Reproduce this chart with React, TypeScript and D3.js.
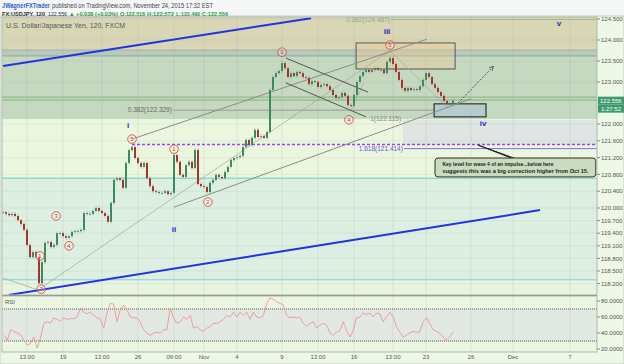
import React from 'react';
import * as d3 from 'd3';

// 2h closes, one every ~3px (Oct 15 -> Nov 24)
const closes = [
  119.90, 119.86, 119.83, 119.86, 119.81, 119.71, 119.62, 119.48, 119.12, 118.83,
  118.95, 118.83, 118.21, 118.71, 119.17, 119.19, 119.07, 119.12, 119.40, 119.40,
  119.33, 119.29, 119.33, 119.43, 119.45, 119.45, 119.48, 119.88, 119.86, 119.86,
  119.93, 120.00, 119.93, 119.88, 119.81, 119.67, 120.12, 120.67, 120.71, 120.67,
  120.48, 121.07, 121.38, 121.45, 121.19, 121.07, 120.98, 121.07, 120.71, 120.52,
  120.40, 120.38, 120.36, 120.36, 120.40, 120.33, 120.36, 121.26, 121.10, 120.79,
  120.74, 121.02, 121.10, 120.95, 121.38, 120.57, 120.52, 120.50, 120.38, 120.60,
  120.67, 120.79, 120.74, 120.71, 120.86, 120.98, 121.14, 121.19, 121.21, 121.24,
  121.45, 121.62, 121.50, 121.67, 121.86, 121.69, 121.71, 121.67, 121.81, 122.81,
  123.12, 123.21, 123.26, 123.45, 123.33, 123.12, 123.21, 123.14, 123.24, 123.21,
  123.12, 123.10, 122.95, 123.02, 123.00, 122.88, 122.93, 122.95, 122.90, 122.81,
  122.69, 122.62, 122.64, 122.74, 122.67, 122.45, 122.43, 122.69, 123.00, 123.14,
  123.24, 123.29, 123.24, 123.29, 123.33, 123.29, 123.29, 123.21, 123.48, 123.57,
  123.43, 123.24, 123.05, 122.86, 122.79, 122.86, 122.81, 122.83, 122.81, 122.90,
  123.05, 123.21, 123.12, 122.95, 122.86, 122.76, 122.67, 122.55, 122.48, 122.48,
  122.556
];

const rsiValues = [
  37, 31, 44, 42, 40, 38, 31, 25, 27, 35, 21, 34, 52, 54, 52, 59, 57, 55, 59, 57,
  58, 58, 60, 71, 66, 64, 66, 62, 59, 57, 46, 65, 77, 76, 54, 69, 75, 69, 60, 59,
  59, 54, 44, 40, 37, 40, 41, 40, 44, 44, 71, 59, 52, 54, 60, 57, 62, 46, 48, 44,
  42, 46, 48, 52, 52, 54, 57, 62, 60, 66, 60, 66, 62, 66, 57, 66, 60, 59, 62, 77,
  84, 82, 79, 77, 75, 62, 59, 60, 59, 60, 52, 48, 52, 54, 46, 50, 52, 50, 40, 37,
  41, 43, 54, 43, 35, 43, 59, 60, 65, 63, 65, 60, 65, 64, 54, 60, 66, 60, 48, 41,
  35, 37, 40, 42, 41, 41, 54, 59, 52, 44, 42, 40, 35, 31, 35, 41
];

const priceTicks = [124.5, 124, 123.5, 123, 122, 121.6, 121.2, 120.8, 120.4, 120, 119.7, 119.4, 119.1, 118.8, 118.5, 118.2];
const rsiTicks = [80, 60, 40, 20];
const timeTicks = [8, 20, 33, 45, 57, 67, 78, 93, 105, 117, 130, 141, 156, 170, 189];
const timeLabels = ['13:00', '19', '13:00', '26', '09:00', 'Nov', '4', '9', '13:00', '16', '13:00', '23', '26', 'Dec', '7'];

// header quote line
const quoteParts = ['FX:USDJPY, 120', '122.556', '▲ +0.038 (+0.03%)', 'O:122.518', 'H:122.572', 'L:122.490', 'C:122.556'];

// shaded zones (price edges, top to bottom)
const zoneEdges = [125.2, 123.76, 123.62, 122.115, 120.71, 118.29, 117.5];

// elliott labels (bar index, price)
const waveNames = ['i', 'ii', 'iii', 'iv', 'v'];
const waveIdx = [41.7, 57, 128, 160, 185.3];
const wavePrice = [121.98, 119.5, 124.21, 122.02, 124.4];

const countNames = ['1', '2', '3', '4', '5', '1', '2', '3', '4', '5'];
const countIdx = [12.3, 12.7, 17.7, 22, 43, 57, 68.3, 93, 115.3, 129];
const countPrice = [118.86, 118.07, 119.81, 119.1, 121.64, 121.4, 120.14, 123.71, 122.1, 123.88];

// trend lines [idx1, price1, idx2, price2]
const blueLines = [[0, 123.38, 102.7, 124.52], [2, 117.93, 179, 119.95]];
const channelLines = [[43, 121.64, 141.3, 124.02], [57, 120.02, 156, 122.6]];
const thinLines = [[12.7, 118.1, 129, 123.75], [0, 118.33, 11.7, 118.05], [129, 123.75, 148.3, 122.38], [116, 122.33, 120.3, 122.98]];
const wedgeLines = [[94.3, 123.57, 121.7, 122.76], [94.3, 122.98, 121, 122.17]];

export default function App() {
  const W = 624, H = 364;
  const left = 2, right = 597, top = 17, bottom = 295;
  const rsiTop = 296, rsiBottom = 352;

  const x = d3.scaleLinear().domain([0, 198]).range([3, 597]);
  const y = d3.scaleLinear().domain([118.2, 124.5]).range([283.6, 19]);
  const yr = d3.scaleLinear().domain([20, 80]).range([349, 301]);
  const rsiIdx = d3.scaleLinear().domain([0, rsiValues.length - 1]).range([0.3, 150]);

  const zoneColors = ['#d9d6b6', '#b8c9be', '#c5d8c0', '#ebf6df', '#dcefe0', '#e6f4e0'];

  // quote line layout (x start, width, colour, weight)
  const quoteX = [2, 48, 69, 120, 147, 176, 202];
  const quoteW = [43, 19, 49, 25, 27, 24, 26];
  const quoteCol = ['#333', '#333', '#2e9a4a', '#2e9a4a', '#2e9a4a', '#2e9a4a', '#2e9a4a'];

  const candles = closes.map((c, i) => {
    const o = i === 0 ? c : closes[i - 1];
    return { i, o, c, h: Math.max(o, c) + 0.04, l: Math.min(o, c) - 0.04 };
  });

  const rsiLine = d3.line<number>()
    .x((d, j) => x(rsiIdx(j)))
    .y(d => yr(d));

  const seg = (l: number[], k: number, stroke: string, sw: number, dash?: string) => (
    <line key={k} x1={x(l[0])} y1={y(l[1])} x2={x(l[2])} y2={y(l[3])}
      stroke={stroke} strokeWidth={sw} strokeDasharray={dash} />
  );

  const font = 'Liberation Sans, Arial, sans-serif';

  return (
    <svg width={W} height={H} style={{ position: 'absolute', left: 0, top: 0 }} fontFamily={font}>
      <defs>
        <clipPath id="main"><rect x={left} y={top} width={right - left} height={bottom - top} /></clipPath>
        <clipPath id="rsi"><rect x={left} y={rsiTop} width={right - left} height={rsiBottom - rsiTop} /></clipPath>
        <marker id="arr" viewBox="0 0 6 6" refX="5" refY="3" markerWidth="5" markerHeight="5" orient="auto">
          <path d="M0,0 L6,3 L0,6" fill="none" stroke="#555" strokeWidth="1" />
        </marker>
      </defs>
      <rect width={W} height={H} fill="#f4f6f8" />
      <rect x={0} y={top - 1} width={W} height={H - top + 1} fill="#eef8e6" stroke="#c4ccc4" />

      {/* header */}
      <text x={2} y={8} fontSize={6.5} fontWeight="bold" fill="#2a63d0" textLength={48} lengthAdjust="spacingAndGlyphs">JWagnerFXTrader</text>
      <text x={52} y={8} fontSize={6.5} fill="#444" textLength={161} lengthAdjust="spacingAndGlyphs">published on TradingView.com, November 24, 2015 17:32 EST</text>
      {quoteParts.map((q, k) => (
        <text key={k} x={quoteX[k]} y={15.5} fontSize={6} fontWeight={k === 1 ? 'normal' : 'bold'} fill={quoteCol[k]}
          textLength={quoteW[k]} lengthAdjust="spacingAndGlyphs">{q}</text>
      ))}

      {/* main pane */}
      <g clipPath="url(#main)">
        {zoneColors.map((col, k) => (
          <rect key={k} x={left} y={y(zoneEdges[k])} width={right - left}
            height={y(zoneEdges[k + 1]) - y(zoneEdges[k])} fill={col} />
        ))}
        <rect x={x(133.3)} y={y(122.1)} width={right - x(133.3)} height={y(121.5) - y(122.1)} fill="#dfe6e2" />
        {timeTicks.map((t, k) => (
          <line key={k} x1={x(t)} x2={x(t)} y1={top} y2={bottom} stroke="#8a9a8a" strokeOpacity={0.15} />
        ))}
        {priceTicks.map((p, k) => (
          <line key={k} x1={left} x2={right} y1={y(p)} y2={y(p)} stroke="#8a9a8a" strokeOpacity={0.12} />
        ))}
        <line x1={left} x2={right} y1={y(123.76)} y2={y(123.76)} stroke="#9fb2a4" />
        <line x1={left} x2={right} y1={y(123.62)} y2={y(123.62)} stroke="#8ea898" />
        <line x1={left} x2={right} y1={y(122.64)} y2={y(122.64)} stroke="#86b27a" />
        <line x1={left} x2={right} y1={y(122.57)} y2={y(122.57)} stroke="#86b27a" />
        <line x1={left} x2={right} y1={y(120.71)} y2={y(120.71)} stroke="#8edcbf" strokeWidth={1.5} />
        <line x1={left} x2={right} y1={y(118.29)} y2={y(118.29)} stroke="#80cce4" />

        {/* fib levels */}
        <line x1={x(129.3)} x2={right} y1={y(124.487)} y2={y(124.487)} stroke="#9cc080" />
        <text x={x(129)} y={y(124.487) + 2.3} fontSize={6.5} textAnchor="end" fill="#8cb070">0.382(124.487)</text>
        <line x1={x(56.7)} x2={x(143.7)} y1={y(122.329)} y2={y(122.329)} stroke="#999" />
        <text x={x(56.3)} y={y(122.329) + 2.3} fontSize={6.5} textAnchor="end" fill="#666">0.382(122.329)</text>
        <text x={x(132.7)} y={y(122.115) + 2.3} fontSize={6.5} textAnchor="end" fill="#888">1(122.115)</text>
        <line x1={x(133.7)} x2={right} y1={y(121.414)} y2={y(121.414)} stroke="#7474e0" />
        <text x={x(133.3)} y={y(121.414) + 2.3} fontSize={6.5} textAnchor="end" fill="#5a64d0">1.618(121.414)</text>
        <line x1={x(43)} x2={right} y1={y(121.51)} y2={y(121.51)} stroke="#a040f0" strokeWidth={1.5} strokeDasharray="3,2" />

        {/* boxes */}
        <rect x={x(117.7)} y={y(123.93)} width={x(150.7) - x(117.7)} height={y(123.31) - y(123.93)}
          fill="#f0c890" fillOpacity={0.35} stroke="#555" strokeWidth={1} />
        <rect x={x(143.7)} y={y(122.48)} width={x(161) - x(143.7)} height={y(122.17) - y(122.48)}
          fill="#a8c4d4" fillOpacity={0.6} stroke="#333" strokeWidth={1.2} />

        {/* trend lines */}
        {thinLines.map((l, k) => seg(l, k, '#a0a8a0', 0.7))}
        {channelLines.map((l, k) => seg(l, k, '#8c8c8c', 1))}
        {wedgeLines.map((l, k) => seg(l, k, '#555', 1))}

        {/* candles */}
        {candles.map(d => (
          <g key={d.i}>
            <line x1={x(d.i)} x2={x(d.i)} y1={y(d.h)} y2={y(d.l)} stroke="#8a9a90" strokeWidth={0.6} />
            <rect x={x(d.i) - 1} y={y(Math.max(d.o, d.c))} width={2}
              height={Math.max(0.8, Math.abs(y(d.o) - y(d.c)))}
              fill={d.c >= d.o ? '#3b8a62' : '#a8322c'} />
          </g>
        ))}

        {blueLines.map((l, k) => seg(l, k, '#2233e0', 2))}
        <line x1={x(151.7)} y1={y(122.5)} x2={x(163.3)} y2={y(123.36)} stroke="#555" strokeDasharray="2,1.5" markerEnd="url(#arr)" />

        {/* labels */}
        <text x={6} y={28} fontSize={7} fill="#555">U.S. Dollar/Japanese Yen, 120, FXCM</text>
        {waveNames.map((w, k) => (
          <text key={k} x={x(waveIdx[k])} y={y(wavePrice[k]) + 3} fontSize={8} fontWeight="bold"
            textAnchor="middle" fill="#2430c0">{w}</text>
        ))}
        {countNames.map((c, k) => (
          <g key={k} transform={`translate(${x(countIdx[k])},${y(countPrice[k])})`}>
            <circle r={4.3} fill="#fff" fillOpacity={0.25} stroke="#d85040" strokeWidth={0.9} />
            <text y={2.2} fontSize={6} textAnchor="middle" fill="#d04030">{c}</text>
          </g>
        ))}

        {/* note */}
        <path d={`M${x(158.3)},${y(121.5)} L${x(171)},${y(121.17)} L${x(169)},${y(121.2)} Z`} fill="#222" stroke="#222" strokeWidth={1} />
        <rect x={x(144)} y={y(121.19)} width={x(197.6) - x(144)} height={y(120.74) - y(121.19)}
          rx={3} fill="#c9dcc0" stroke="#333" strokeWidth={1} />
        <text x={x(146.5)} y={y(121.19) + 8} fontSize={6} fontWeight="bold" fill="#222"
          textLength={111} lengthAdjust="spacingAndGlyphs">Key level for wave 4 of an impulse...below here</text>
        <text x={x(146.5)} y={y(121.19) + 15} fontSize={6} fontWeight="bold" fill="#222"
          textLength={146} lengthAdjust="spacingAndGlyphs">suggests this was a big correction higher from Oct 15.</text>
      </g>
      <rect x={left} y={top} width={right - left} height={bottom - top} fill="none" stroke="#b0b8b0" />

      {/* price axis */}
      {priceTicks.map((p, k) => (
        <g key={k}>
          <line x1={right} x2={right + 3} y1={y(p)} y2={y(p)} stroke="#888" />
          <text x={right + 4} y={y(p) + 2.2} fontSize={6} fill="#555">{p.toFixed(3)}</text>
        </g>
      ))}
      <rect x={right + 1} y={y(122.556) - 4} width={26} height={8} fill="#3d9a6c" />
      <text x={right + 3} y={y(122.556) + 2.2} fontSize={6} fill="#fff">122.556</text>
      <rect x={right + 1} y={y(122.556) + 4} width={26} height={8} fill="#3d9a6c" />
      <text x={right + 4} y={y(122.556) + 10.2} fontSize={6} fill="#fff">1:27:52</text>

      {/* RSI pane */}
      <g clipPath="url(#rsi)">
        <rect x={left} y={rsiTop} width={right - left} height={rsiBottom - rsiTop} fill="#eaf6e0" />
        <rect x={left} y={yr(70)} width={right - left} height={yr(30) - yr(70)} fill="#e2e8e2" />
        {timeTicks.map((t, k) => (
          <line key={k} x1={x(t)} x2={x(t)} y1={rsiTop} y2={rsiBottom} stroke="#8a9a8a" strokeOpacity={0.15} />
        ))}
        <line x1={left} x2={right} y1={yr(70)} y2={yr(70)} stroke="#555" strokeDasharray="1,1" />
        <line x1={left} x2={right} y1={yr(30)} y2={yr(30)} stroke="#555" strokeDasharray="1,1" />
        <path d={rsiLine(rsiValues) || ''} fill="none" stroke="#f08a8a" strokeWidth={0.8} />
        <text x={5} y={rsiTop + 8} fontSize={6} fill="#555">RSI</text>
      </g>
      <rect x={left} y={rsiTop} width={right - left} height={rsiBottom - rsiTop} fill="none" stroke="#b0b8b0" />
      <line x1={left} x2={right} y1={bottom + 0.5} y2={bottom + 0.5} stroke="#999" />
      {rsiTicks.map((r, k) => (
        <g key={k}>
          <line x1={right} x2={right + 3} y1={yr(r)} y2={yr(r)} stroke="#888" />
          <text x={right + 4} y={yr(r) + 2.2} fontSize={6} fill="#555">{r.toFixed(4)}</text>
        </g>
      ))}

      {/* time axis */}
      {timeTicks.map((t, k) => (
        <text key={k} x={x(t)} y={359} fontSize={6} textAnchor="middle" fill="#555">{timeLabels[k]}</text>
      ))}
    </svg>
  );
}
